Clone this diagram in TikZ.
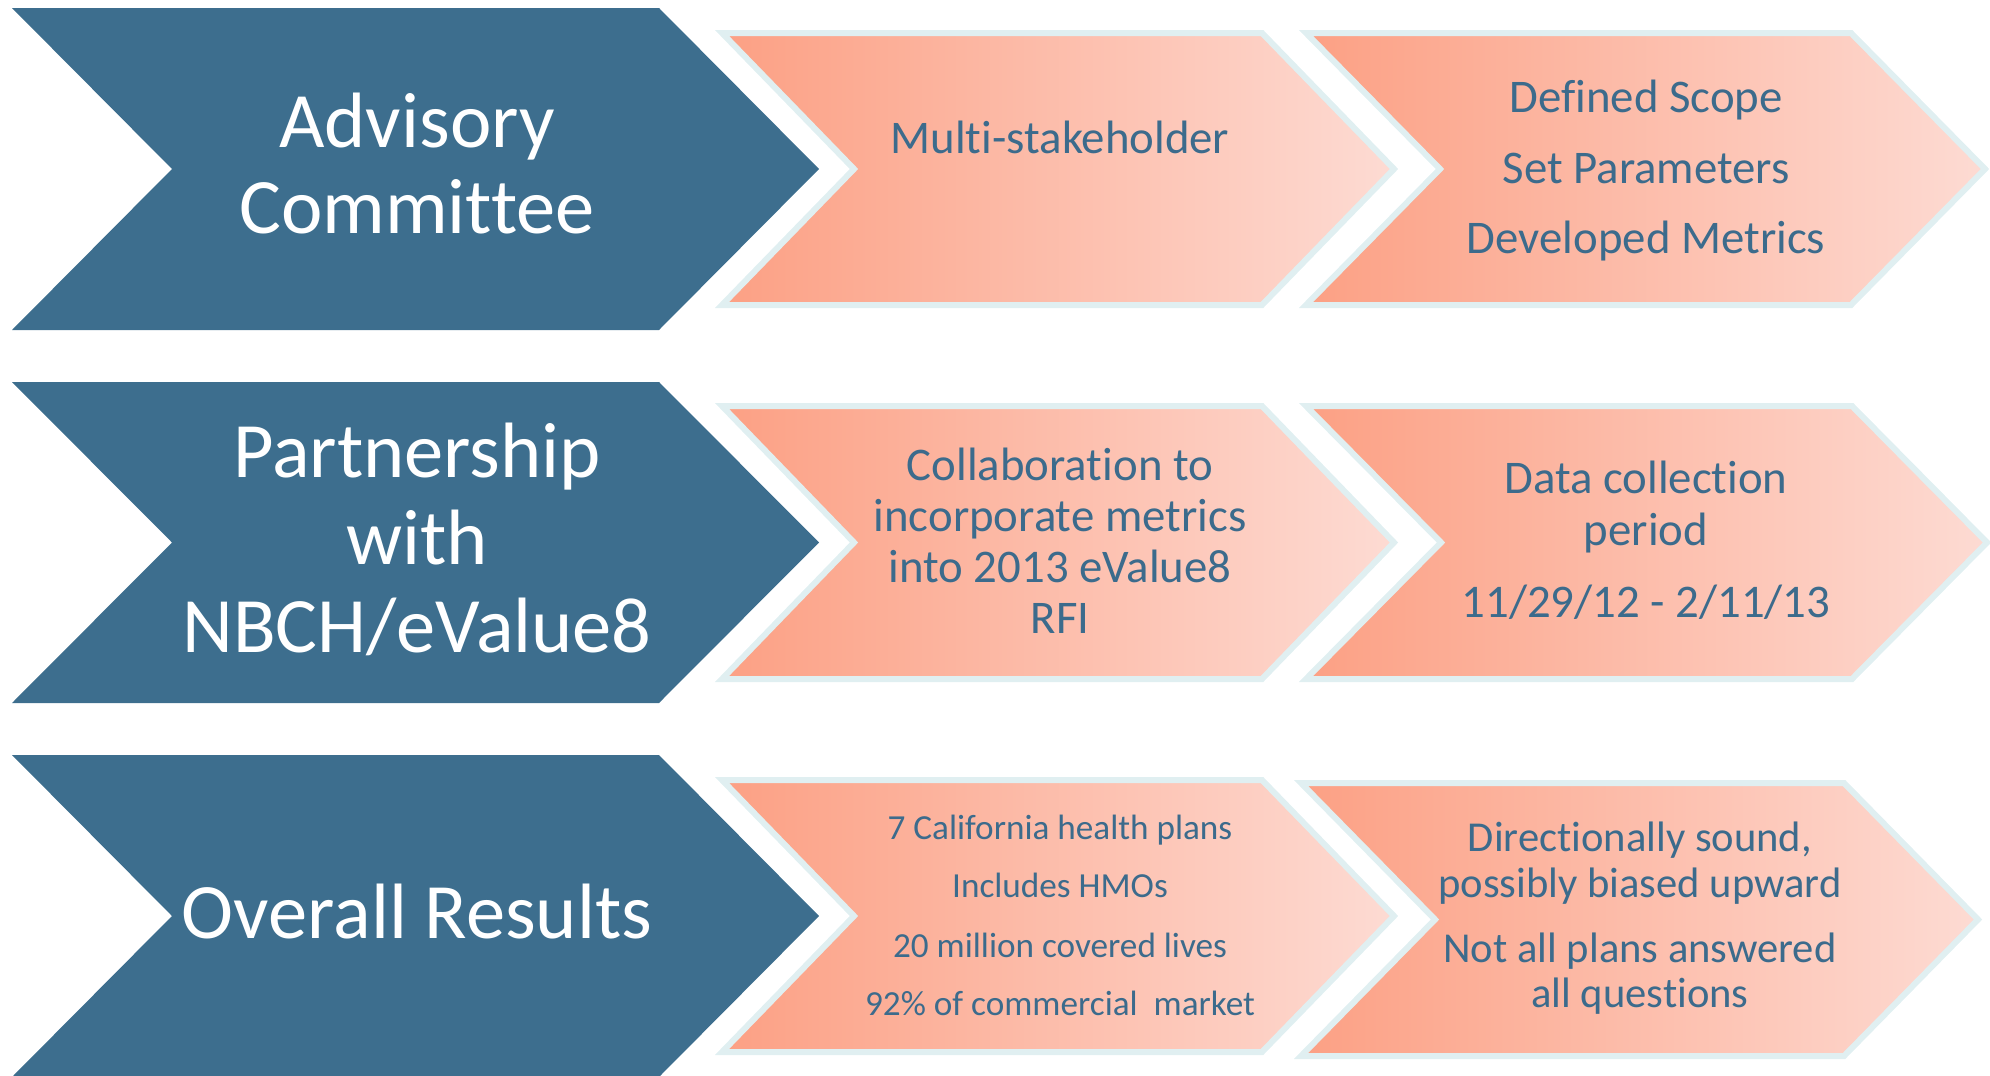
\documentclass[tikz,border=0pt]{standalone}
\usepackage{fontspec}
\setmainfont{Carlito}[Ligatures=CommonOff]
\definecolor{chevblue}{RGB}{61,110,142}
\definecolor{txtblue}{RGB}{60,107,140}
\definecolor{pinkL}{RGB}{252,160,132}
\definecolor{pinkR}{RGB}{253,219,211}
\definecolor{rim}{RGB}{224,239,241}
\newcommand\chevpath[5]{(#1,#2) -- ({#4-#5},#2) -- (#4,{(#2+#3)/2}) -- ({#4-#5},#3) -- (#1,#3) -- ({#1+#5},{(#2+#3)/2}) -- cycle}
\newcommand\linesat[4]{\foreach \yy/\lt [count=\ii] in {#4} {\node[#3] (#1-\ii) at (#2,\yy) {\lt};}}
\tikzset{
  bluechev/.style={fill=chevblue},
  pinkchev/.style={left color=pinkL, right color=pinkR, draw=rim, line width=6pt, line join=miter},
  bigtxt/.style={text=white, font=\fontsize{78.5}{86}\selectfont, anchor=base, inner sep=0pt},
  midtxt/.style={text=txtblue, font=\fontsize{46.8}{51}\selectfont, anchor=base, inner sep=0pt},
  smtxt/.style={text=txtblue, font=\fontsize{35.2}{40}\selectfont, anchor=base, inner sep=0pt},
  mdtxt/.style={text=txtblue, font=\fontsize{42.6}{46}\selectfont, anchor=base, inner sep=0pt},
}
\begin{document}
\begin{tikzpicture}[x=1pt,y=-1pt]
\useasboundingbox (0,0) rectangle (1990,1076);
\clip (0,0) rectangle (1990,1076);
% row 1
\path[bluechev] \chevpath{12}{8}{330}{819}{160};
\path[pinkchev] \chevpath{722}{33}{305}{1394}{132};
\path[pinkchev] \chevpath{1306}{33}{305}{1985}{134};
% row 2
\path[bluechev] \chevpath{12}{382}{703}{819}{160};
\path[pinkchev] \chevpath{722}{406}{679}{1394}{132};
\path[pinkchev] \chevpath{1306}{406}{679}{1987}{135};
% row 3
\path[bluechev] \chevpath{12}{755}{1077}{819}{160};
\path[pinkchev] \chevpath{722}{780}{1052}{1394}{132};
\path[pinkchev] \chevpath{1301}{783}{1056}{1978}{134};
% texts
\linesat{adv}{417}{bigtxt}{147/Advisory, 233/Committee}
\linesat{part}{417}{bigtxt}{477/Partnership, 564/with, 652/NBCH\slash eValue8}
\linesat{over}{417}{bigtxt}{938/Overall Results}
\linesat{multi}{1060}{midtxt}{153/Multi-stakeholder}
\linesat{scope}{1646}{midtxt}{112/Defined Scope, 183/Set Parameters, 253/Developed Metrics}
\linesat{collab}{1060}{midtxt}{480/Collaboration to, 531/incorporate metrics, 582/into 2013 eValue8, 633/RFI}
\linesat{data}{1646}{midtxt}{493/Data collection, 545/period, 617/11\slash 29\slash 12 - 2\slash 11\slash 13}
\linesat{plans}{1060}{smtxt}{839/7 California health plans, 897/Includes HMOs, 957/20 million covered lives, 1015/92\% of commercial\ \ market}
\linesat{dir}{1640}{mdtxt}{851/{Directionally sound,}, 897/possibly biased upward, 962/Not all plans answered, 1007/all questions}
\end{tikzpicture}
\end{document}
